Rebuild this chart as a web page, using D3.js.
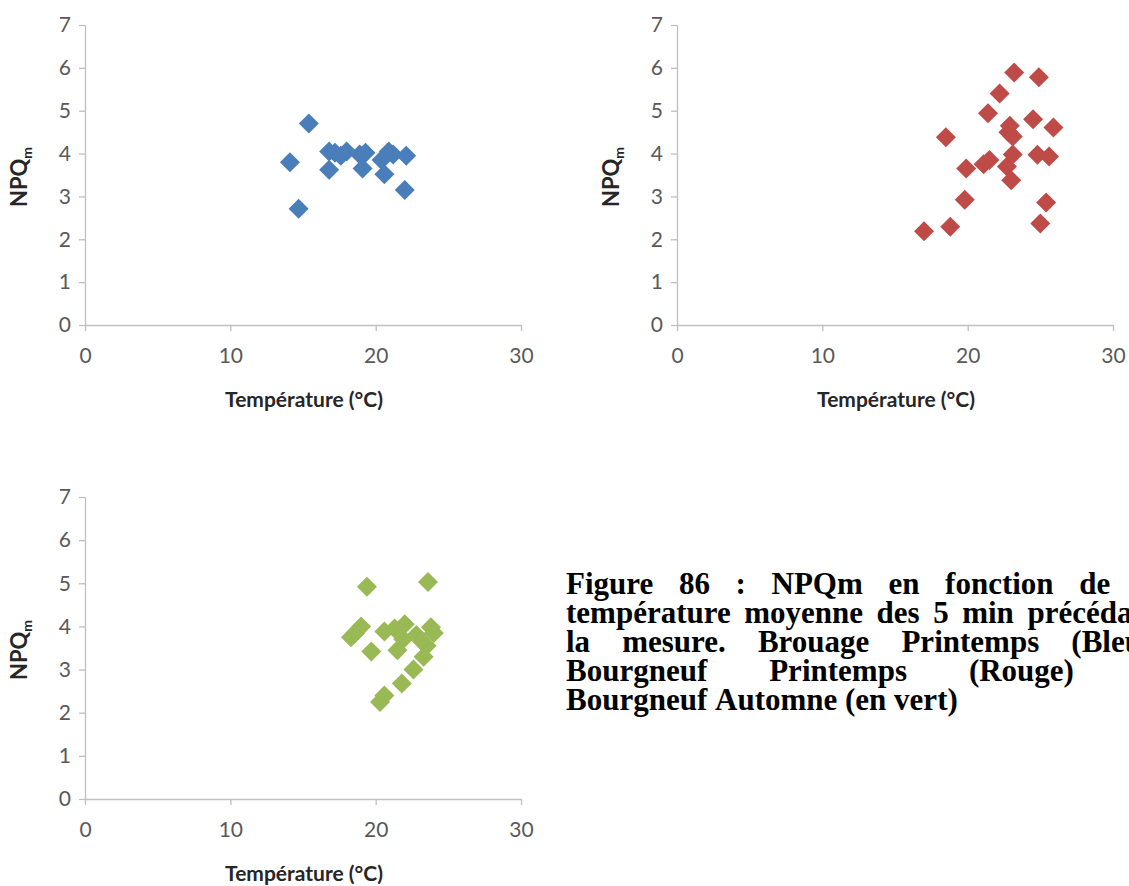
<!DOCTYPE html>
<html><head><meta charset="utf-8">
<script src="https://cdn.jsdelivr.net/npm/d3@7/dist/d3.min.js"></script>
<style>
html,body{margin:0;padding:0;background:#fff;}
svg{display:block;}
</style></head>
<body>
<svg id="chart" width="1129" height="886"></svg>
<script>
// ---- data ----
const xTicks = [0, 10, 20, 30];
const yTicks = [0, 1, 2, 3, 4, 5, 6, 7];
const xTitle = "Température (°C)";
const yTitleMain = "NPQ";
const yTitleSub = "m";

const brouagePrintempsT = [14.1, 14.7, 15.4, 16.8, 16.8, 17.2, 17.6, 18.0, 18.9, 19.1, 19.3, 20.4, 20.6, 20.9, 21.2, 22.1, 22.0];
const brouagePrintempsNPQ = [3.80, 2.71, 4.70, 4.05, 3.62, 4.02, 3.95, 4.05, 3.98, 3.65, 4.02, 3.85, 3.52, 4.05, 3.98, 3.95, 3.15];

const bourgneufPrintempsT = [17.0, 18.8, 18.5, 19.8, 19.9, 21.1, 21.5, 21.4, 22.2, 23.2, 24.9, 22.8, 22.9, 23.1, 24.5, 25.9, 23.1, 22.7, 23.0, 24.8, 25.6, 25.4, 25.0];
const bourgneufPrintempsNPQ = [2.19, 2.29, 4.38, 2.92, 3.65, 3.75, 3.85, 4.94, 5.40, 5.89, 5.78, 4.50, 4.65, 4.40, 4.80, 4.61, 3.98, 3.70, 3.38, 3.97, 3.93, 2.86, 2.37];

const bourgneufAutomneT = [18.3, 18.6, 19.0, 19.4, 19.7, 20.3, 20.6, 20.6, 21.3, 21.5, 21.8, 22.0, 21.9, 22.6, 22.8, 23.3, 23.5, 23.6, 23.8, 24.0, 23.2];
const bourgneufAutomneNPQ = [3.75, 3.85, 4.00, 4.92, 3.42, 2.25, 2.40, 3.88, 3.95, 3.45, 2.68, 4.05, 3.70, 3.00, 3.80, 3.30, 3.55, 5.03, 3.98, 3.85, 3.65];

const captionLines = [
  "Figure 86 : NPQm en fonction de la",
  "température moyenne des 5 min précédant",
  "la mesure. Brouage Printemps (Bleu),",
  "Bourgneuf Printemps (Rouge) et",
  "Bourgneuf Automne (en vert)"
];

// ---- layout ----
const panels = [
  {T: brouagePrintempsT, V: brouagePrintempsNPQ, color: "#4a7ebb", x0: 85, x1: 521, y0: 325, y1: 25},
  {T: bourgneufPrintempsT, V: bourgneufPrintempsNPQ, color: "#be4b48", x0: 677, x1: 1113, y0: 325, y1: 25},
  {T: bourgneufAutomneT, V: bourgneufAutomneNPQ, color: "#98b954", x0: 85, x1: 521, y0: 799, y1: 497}
];

const svg = d3.select("#chart");
const diamond = {
  draw(ctx, size) {
    const r = Math.sqrt(size / 2);
    ctx.moveTo(0, -r); ctx.lineTo(r, 0); ctx.lineTo(0, r); ctx.lineTo(-r, 0); ctx.closePath();
  }
};
const axisColor = "#bfbfbf";
const tickFont = "Lato, 'Liberation Sans', sans-serif";

panels.forEach(p => {
  const x = d3.scaleLinear().domain([0, 30]).range([p.x0, p.x1]);
  const y = d3.scaleLinear().domain([0, 7]).range([p.y0, p.y1]);
  const g = svg.append("g");

  const ya = g.append("g").attr("transform", `translate(${p.x0},0)`)
    .call(d3.axisLeft(y).tickValues(yTicks).tickSize(6).tickSizeOuter(0).tickPadding(8).tickFormat(d3.format("d")));
  const xa = g.append("g").attr("transform", `translate(0,${p.y0})`)
    .call(d3.axisBottom(x).tickValues(xTicks).tickSize(6).tickSizeOuter(0).tickPadding(17).tickFormat(d3.format("d")));
  [ya, xa].forEach(a => {
    a.select(".domain").attr("stroke", axisColor).attr("stroke-width", 1.3);
    a.selectAll(".tick line").attr("stroke", axisColor).attr("stroke-width", 1.3);
    a.selectAll(".tick text").attr("fill", "#595959").style("font-family", tickFont).style("font-size", "21px");
  });

  g.append("text")
    .attr("x", (p.x0 + p.x1) / 2 + 1).attr("y", p.y0 + 82)
    .attr("text-anchor", "middle")
    .style("font-family", tickFont).style("font-weight", "bold").style("font-size", "21px")
    .attr("fill", "#262626")
    .text(xTitle);

  const yt = g.append("text")
    .attr("transform", `translate(${p.x0 - 58},${(p.y0 + p.y1) / 2 + 2}) rotate(-90)`)
    .attr("text-anchor", "middle")
    .style("font-family", tickFont).style("font-weight", "bold").style("font-size", "22px")
    .attr("fill", "#262626");
  yt.append("tspan").text(yTitleMain);
  yt.append("tspan").attr("dy", 5).style("font-size", "14px").text(yTitleSub);

  g.append("g").selectAll("path")
    .data(p.T.map((t, i) => [t, p.V[i]]))
    .join("path")
    .attr("transform", d => `translate(${x(d[0])},${y(d[1])})`)
    .attr("d", d3.symbol(diamond, 200))
    .attr("fill", p.color);
});

// ---- caption (justified) ----
const capL = 566, capR = 1160, capBase = 594, capStep = 29;
const capFont = "'Liberation Serif', 'Times New Roman', serif";
captionLines.forEach((line, li) => {
  const words = line.split(" ");
  const gl = svg.append("g");
  const nodes = words.map(w => gl.append("text")
    .attr("y", capBase + li * capStep)
    .style("font-family", capFont).style("font-weight", "bold").style("font-size", "31px")
    .attr("fill", "#000").text(w));
  const widths = nodes.map(n => n.node().getComputedTextLength());
  const total = d3.sum(widths);
  const last = li === captionLines.length - 1;
  const gap = last ? 7.75 : (capR - capL - total) / (words.length - 1);
  let cx = capL;
  nodes.forEach((n, i) => { n.attr("x", cx); cx += widths[i] + gap; });
});
</script>
</body></html>
